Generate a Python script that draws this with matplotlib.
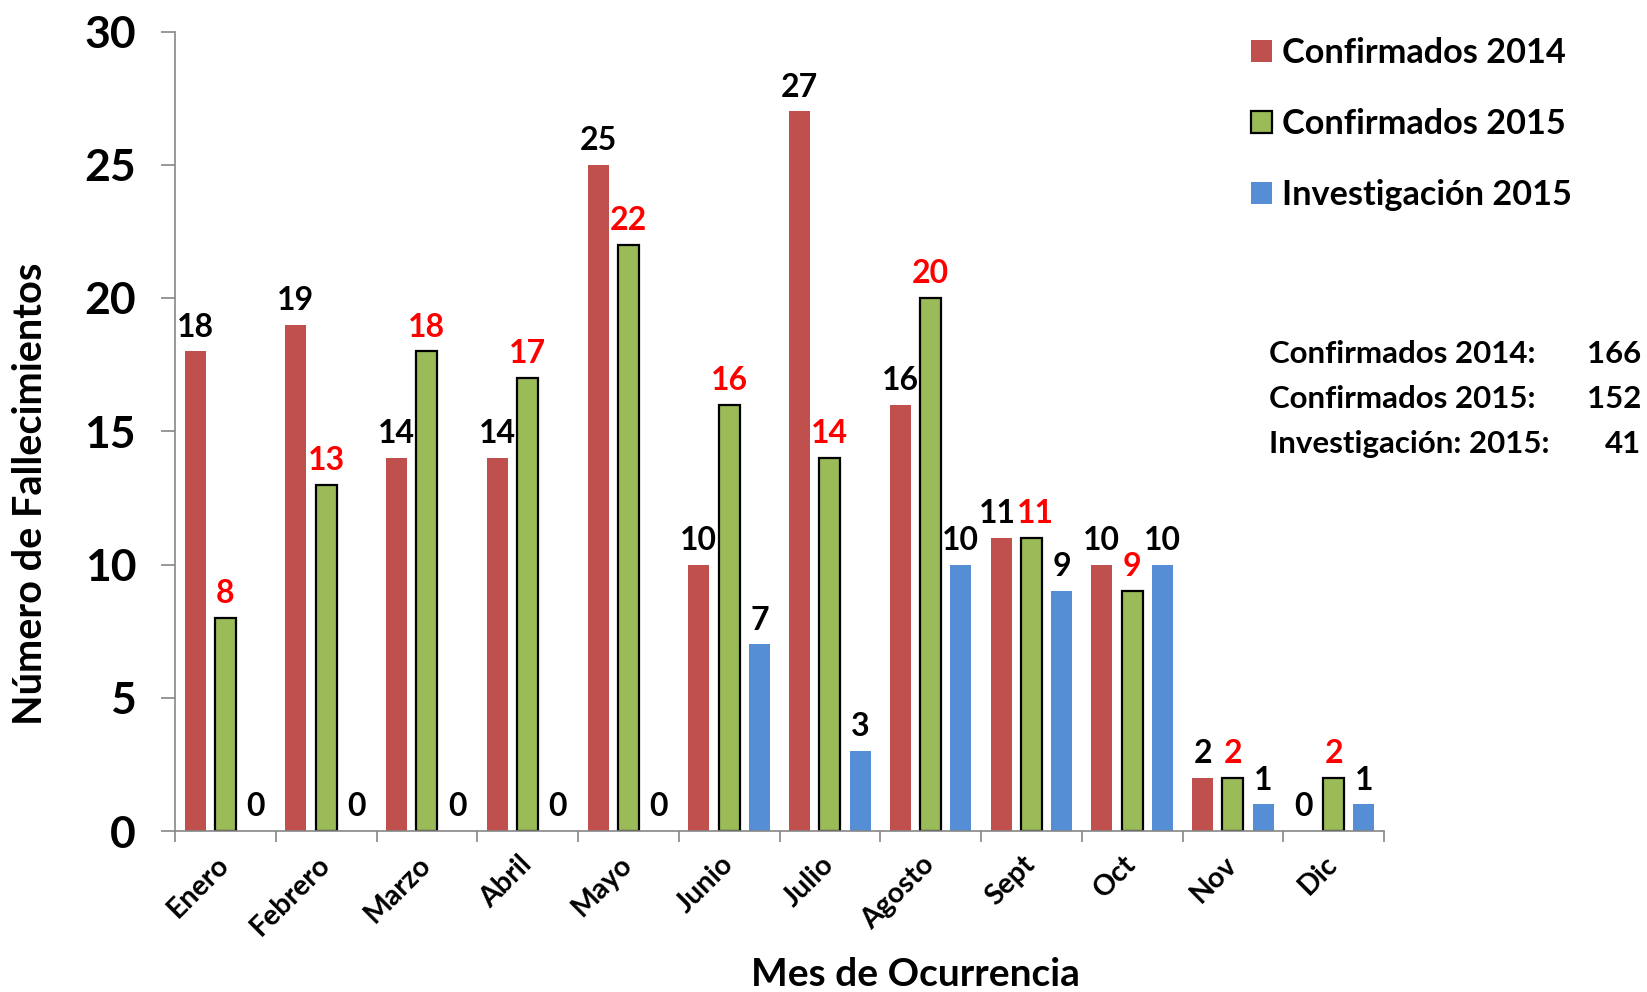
import matplotlib
matplotlib.use("Agg")
import matplotlib.pyplot as plt
import numpy as np

plt.rcParams['font.family'] = ['Lato', 'DejaVu Sans']
plt.rcParams['font.weight'] = 'bold'

meses = ['Enero', 'Febrero', 'Marzo', 'Abril', 'Mayo', 'Junio', 'Julio',
         'Agosto', 'Sept', 'Oct', 'Nov', 'Dic']
conf_2014 = [18, 19, 14, 14, 25, 10, 27, 16, 11, 10, 2, 0]
conf_2015 = [8, 13, 18, 17, 22, 16, 14, 20, 11, 9, 2, 2]
inv_2015 = [0, 0, 0, 0, 0, 7, 3, 10, 9, 10, 1, 1]
nombres = ['Confirmados 2014', 'Confirmados 2015', 'Investigación 2015']
totales = [('Confirmados 2014:', '166'), ('Confirmados 2015:', '152'),
           ('Investigación: 2015:', '41')]

c_red = '#C0504D'
c_green = '#9BBB59'
c_blue = '#558ED5'
c_axis = '#868686'

fig = plt.figure(figsize=(16.47, 9.92), dpi=100)
ax = fig.add_axes([175/1647, 1 - 831/992, (1384 - 175)/1647, (831 - 31.5)/992])

x = np.arange(len(meses))
w = 0.21
b1 = ax.bar(x - 0.3, conf_2014, w, color=c_red, label=nombres[0])
b2 = ax.bar(x, conf_2015, w, color=c_green, edgecolor='black', linewidth=1.6,
            label=nombres[1])
b3 = ax.bar(x + 0.3, inv_2015, w, color=c_blue, label=nombres[2])

l1 = ax.bar_label(b1, padding=7, color='black', fontsize=23, fontweight='bold')
l2 = ax.bar_label(b2, padding=7, color='#FF0000', fontsize=23, fontweight='bold')
ax.bar_label(b3, padding=7, color='black', fontsize=23, fontweight='bold')
# Sept: the two "11" labels sit side by side, push them apart a bit
l1[8].xyann = (-3, 7)
l2[8].xyann = (3, 7)

ax.set_xlim(-0.5, 11.5)
ax.set_ylim(0, 30)
ax.set_yticks(range(0, 31, 5))
ax.tick_params(axis='y', length=10, width=1.2, color=c_axis, pad=18, labelsize=32)

ax.set_xticks(x)
ax.set_xticks(np.arange(-0.5, 12, 1), minor=True)
ax.tick_params(axis='x', which='major', length=0, pad=21)
ax.tick_params(axis='x', which='minor', length=8, width=1.2, color=c_axis)
ax.set_xticklabels(meses, rotation=45, ha='right', va='center',
                   rotation_mode='anchor', fontsize=20.5)

for s in ['top', 'right']:
    ax.spines[s].set_visible(False)
for s in ['left', 'bottom']:
    ax.spines[s].set_color(c_axis)
    ax.spines[s].set_linewidth(1.2)

fig.text(915/1647, 1 - 974/992, 'Mes de Ocurrencia', ha='center', va='center',
         fontsize=28, fontweight='bold')
fig.text(31/1647, 1 - 494/992, 'Número de Fallecimientos', ha='center',
         va='center', rotation=90, fontsize=28.5, fontweight='bold')

ax.legend(loc='upper left', bbox_to_anchor=(1251/1647, 1 - 37/992),
          bbox_transform=fig.transFigure, frameon=False, fontsize=24.7,
          handlelength=0.6, handleheight=0.6, handletextpad=0.3,
          labelspacing=1.14, borderpad=0, borderaxespad=0)

for i, (lab, val) in enumerate(totales):
    yy = 1 - (354 + i * 45)/992
    fig.text(1269/1647, yy, lab, ha='left', va='center', fontsize=22.5,
             fontweight='bold')
    fig.text(1641/1647, yy, val, ha='right', va='center', fontsize=22.5,
             fontweight='bold')

fig.savefig('out.png', dpi=100)
